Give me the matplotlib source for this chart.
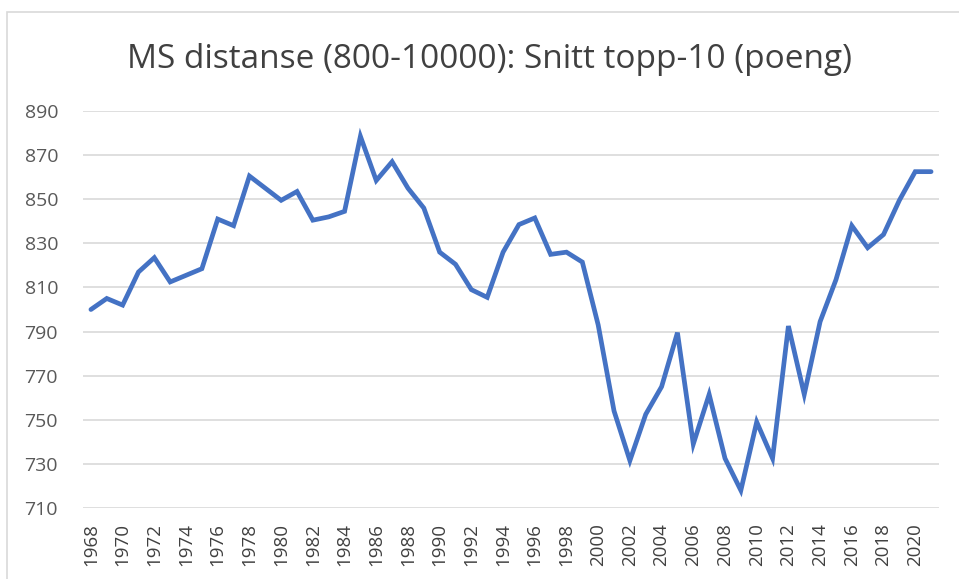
import matplotlib
matplotlib.use("Agg")
import matplotlib.pyplot as plt
from matplotlib.patches import Rectangle

# Snitt topp-10 poeng per år
years = list(range(1968, 2022))
poeng = [800, 805, 802, 817, 823.5, 812.5, 815.5, 818.5, 841, 838,
         860.5, 855, 849.5, 853.5, 840.5, 842, 844.5, 878.5, 858.5, 867,
         855, 846, 826, 820.5, 809, 805.5, 826, 838.5, 841.5, 825,
         826, 821.5, 793, 754, 731.5, 752.5, 765, 789.5, 739, 761.5,
         732.5, 718, 749, 732.5, 792.5, 761.5, 794.5, 813.5, 838, 828,
         834, 849.5, 862.5, 862.5]
y_ticks = list(range(710, 891, 20))
x_ticks = list(range(1968, 2021, 2))

W, H = 959, 579
fig = plt.figure(figsize=(W / 100, H / 100), dpi=100)
plt.rcParams['font.family'] = ['Open Sans', 'DejaVu Sans']

# ramme rundt diagrammet
fig.patches.append(Rectangle((7 / W, -0.05), 1.2, 1 - 12 / H + 0.05,
                             transform=fig.transFigure, fill=False,
                             edgecolor='#d9d9d9', linewidth=1.2))

ax = fig.add_axes([83 / W, 1 - 508 / H, (939 - 83) / W, (508 - 111) / H])
ax.plot(years, poeng, color='#4472c4', linewidth=3.4,
        solid_joinstyle='miter', solid_capstyle='round')

ax.set_xlim(1967.5, 2021.5)
ax.set_ylim(710, 890)
ax.set_yticks(y_ticks)
ax.set_xticks(x_ticks)
ax.set_xticklabels([str(y) for y in x_ticks], rotation=90,
                   fontsize=13.5, color='#404040')
ax.set_yticklabels([str(v) for v in y_ticks], fontsize=14, color='#595959')
ax.tick_params(axis='both', length=0)
ax.tick_params(axis='y', pad=18)
ax.tick_params(axis='x', pad=11)
ax.grid(axis='y', color='#d9d9d9', linewidth=1.2)
ax.set_axisbelow(True)
for s in ax.spines.values():
    s.set_visible(False)

fig.text(489 / W, 1 - 60 / H, 'MS distanse (800-10000): Snitt topp-10 (poeng)',
         ha='center', va='center', fontsize=24, color='#404040')

fig.savefig('out.png', dpi=100)
